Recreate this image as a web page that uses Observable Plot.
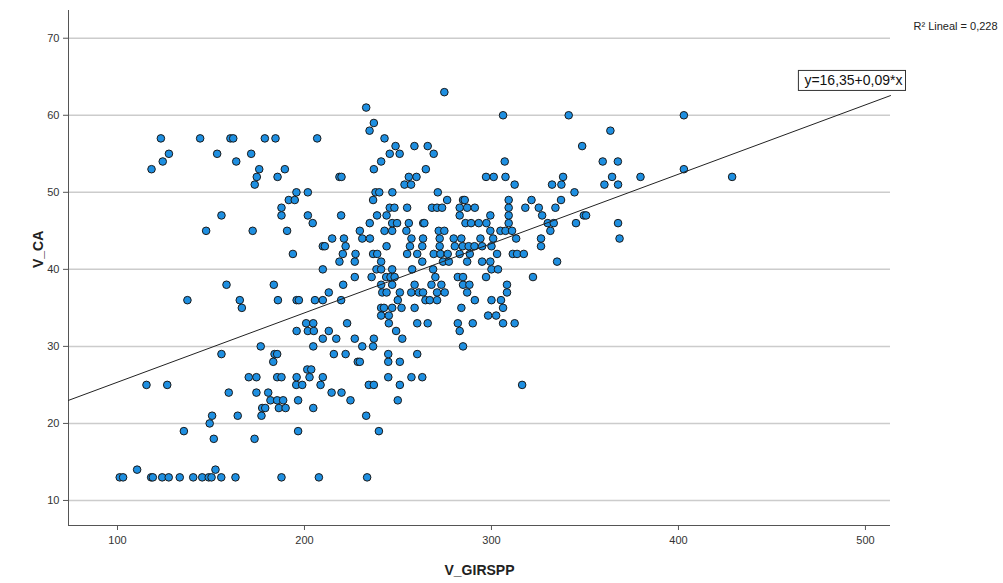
<!DOCTYPE html>
<html><head><meta charset="utf-8">
<script src="https://cdn.jsdelivr.net/npm/d3@7"></script>
<script src="https://cdn.jsdelivr.net/npm/@observablehq/plot@0.6"></script>
<style>body{margin:0;background:#fff;font-family:"Liberation Sans",Arial,sans-serif}</style>
</head><body><div id="chart"></div>
<script>
// V_GIRSPP (x) values, grouped by V_CA level
const vGirspp = [
  // y=13
  101.2,103,118,118.9,123.9,127.4,133.3,140.5,145.3,148.8,150.3,155.5,163.1,187.7,207.7,233.5,
  // y=14
  110.5,152.4,
  // y=18
  151.5,173.3,
  // y=19
  135.5,196.6,239.8,
  // y=20
  149.3,
  // y=21
  150.6,164.3,177,233,
  // y=22
  177.4,179,186.3,189.9,204.7,
  // y=23
  181.8,185.4,188.6,196.6,224.6,249.9,
  // y=24
  159.5,174.3,180.6,214.5,219.8,
  // y=25
  115.5,126.6,195.6,198.8,208.6,234.4,237.1,251.0,316.4,
  // y=26
  170.2,174.3,185.4,187.7,195.8,202.7,209.8,244.8,257.2,263,
  // y=27
  201.5,203.6,
  // y=28
  183.3,228.5,229.6,244.8,251,
  // y=29
  155.6,184,185.4,215.7,222,244.8,260.3,
  // y=30
  176.6,204.7,230.9,236.7,284.8,
  // y=31
  209.8,217,226.9,237.1,252.3,
  // y=32
  195.8,201.8,205,213,249,283,
  // y=33
  200.9,204.7,222.8,245.1,260.3,265.9,282,290,306.2,312.4,
  // y=34
  241,245.1,298.2,302.5,
  // y=35
  166.5,241,242.5,246.9,251.9,258.9,283.9,306.2,
  // y=36
  137.4,165.4,185.8,195.8,197,205.6,209.8,219.6,249.9,264.7,267,270.9,291.1,300,305.1,
  // y=37
  213,241.6,243.9,251,257.1,261.2,263.4,270.9,275,287,308.3,
  // y=38
  158.3,183.6,220.7,241,246.9,258.9,267.9,273.2,284.8,288.2,308.3,
  // y=39
  226.9,235.9,243.7,246,248.2,270,282,284.8,297.1,322.2,
  // y=40
  209.8,238.5,241,246.9,257.6,268.8,300,303.5,
  // y=41
  218.7,226.9,241,263,274.1,277.2,287,295,299.4,335.1,
  // y=42
  193.8,220.5,227.3,236.7,238.9,254.9,260.3,269.1,272.7,276.6,283,288.4,303,311.4,313.7,317.3,
  // y=43
  209.8,210.9,222,243.9,256.4,263,272.3,280.4,284.6,287.8,290.9,295,300,326.5,
  // y=44
  214.8,221.1,230.9,235,257.2,263.4,272.3,279.8,283.9,294.1,300.9,313.2,326.5,368.5,
  // y=45
  147.4,172.3,190.7,229.6,242.8,246.9,254.5,271.8,274.8,299.4,304.8,307.5,311,331.5,
  // y=46
  204.4,234.9,246.9,249.5,255.8,263.5,264.1,286.1,289.1,293.2,297.3,309.2,330.1,333.3,345.2,367.7,
  // y=47
  155.6,187.7,201.8,219.6,238.8,243.9,283,299.4,309.2,327.1,349.4,350.6,
  // y=48
  187.7,245.6,248.1,254.9,268.2,270.9,273.6,283,287,291.1,309.2,318.1,325.3,334.2,
  // y=49
  191.6,194.8,236.7,276.3,284.8,285.7,309.2,321.4,337.2,
  // y=50
  195.7,201.8,238,240,247,271.3,344.4,
  // y=51
  173.4,253.5,257,312.4,332.4,337.4,360.4,367.7,
  // y=52
  174.5,185.6,218.7,219.8,255.8,259.9,297.1,301.2,307.5,338.3,364.5,379.7,428.7,
  // y=53
  118.2,175.8,189.5,237.1,264.9,402.9,
  // y=54
  124.2,163.5,241,307.1,359.5,367.6,
  // y=55
  127.5,153.3,171.5,245.6,250.9,269.1,
  // y=56
  248.7,258.8,265.9,348.5,
  // y=57
  123.2,144.2,160.4,161.9,178.8,184.5,206.8,242.8,
  // y=58
  234.8,363.6,
  // y=59
  237.1,
  // y=60
  306.2,341.3,402.9,
  // y=61
  233,
  // y=63
  274.8
];
// V_CA levels and how many points sit on each (same order as above)
const caLevels = [13,14,18,19,20,21,22,23,24,25,26,27,28,29,30,31,32,33,34,35,36,37,38,39,40,41,42,43,44,45,46,47,48,49,50,51,52,53,54,55,56,57,58,59,60,61,63];
const caCounts = [16,2,2,3,1,4,5,6,5,9,10,2,5,7,5,5,6,10,4,8,15,11,11,10,8,10,16,14,14,14,16,12,14,9,7,8,13,6,6,6,4,8,2,1,3,1,1];
const vCa = caLevels.flatMap((v, i) => Array(caCounts[i]).fill(v));

const xTicks = [100, 200, 300, 400, 500];
const yTicks = [10, 20, 30, 40, 50, 60, 70];
const xDomain = [73.8, 513.4];
const yDomain = [6.75, 73.6];
const fitIntercept = 16.35, fitSlope = 0.09;
const fitLabel = "y=16,35+0,09*x";
const r2Label = "R² Lineal = 0,228";
const xTitle = "V_GIRSPP", yTitle = "V_CA";

const n = Math.min(vGirspp.length, vCa.length);
const pts = d3.range(n).map(i => ({x: vGirspp[i], y: vCa[i]}));
const font = "'Liberation Sans', Arial, sans-serif";

const chart = Plot.plot({
  width: 1003, height: 583,
  marginLeft: 68, marginRight: 113, marginTop: 10, marginBottom: 58,
  style: {fontFamily: font, background: "#fff", overflow: "visible"},
  x: {domain: xDomain},
  y: {domain: yDomain},
  marks: [
    Plot.gridY(yTicks, {stroke: "#cccccc", strokeOpacity: 1, strokeWidth: 1.5}),
    Plot.ruleX([xDomain[0]], {stroke: "#555", strokeWidth: 1}),
    Plot.ruleY([yDomain[0]], {stroke: "#555", strokeWidth: 1}),
    Plot.axisX({ticks: xTicks, tickSize: 5, tickPadding: 6, fontSize: 11, label: null, stroke: "#555", color: "#333"}),
    Plot.axisY({ticks: yTicks, tickSize: 5, tickPadding: 4, fontSize: 11, label: null, stroke: "#555", color: "#333"}),
    Plot.dot(pts, {x: "x", y: "y", r: 3.8, fill: "#1e8fe1", stroke: "#1a1a1a", strokeWidth: 1}),
    Plot.line(xDomain, {x: d => d, y: d => fitIntercept + fitSlope * d, stroke: "#222", strokeWidth: 1}),
    Plot.text([xTitle], {frameAnchor: "bottom", dy: 49, fontSize: 14, fontWeight: "bold", fill: "#222"}),
    Plot.text([yTitle], {frameAnchor: "left", dx: -30, rotate: -90, fontSize: 14, fontWeight: "bold", fill: "#222"}),
    Plot.text([r2Label], {frameAnchor: "top-right", dx: 23, dy: 12, textAnchor: "start", fontSize: 11, fill: "#222"}),
    Plot.text([fitLabel], {frameAnchor: "top-right", dx: 12, dy: 65, textAnchor: "end", fontSize: 14, fill: "#111"})
  ]
});
document.getElementById("chart").appendChild(chart);

// draw a box around the fit-equation label
d3.select(chart).selectAll("text").filter(function() { return this.textContent === fitLabel; }).each(function() {
  const b = this.getBBox();
  const r = d3.select(this.parentNode).insert("rect", () => this)
    .attr("x", b.x - 6).attr("y", b.y - 2).attr("width", b.width + 9).attr("height", b.height + 4)
    .attr("fill", "#fff").attr("stroke", "#333").attr("stroke-width", 1);
  const t = this.getAttribute("transform");
  if (t) r.attr("transform", t);
});
</script>
</body></html>
